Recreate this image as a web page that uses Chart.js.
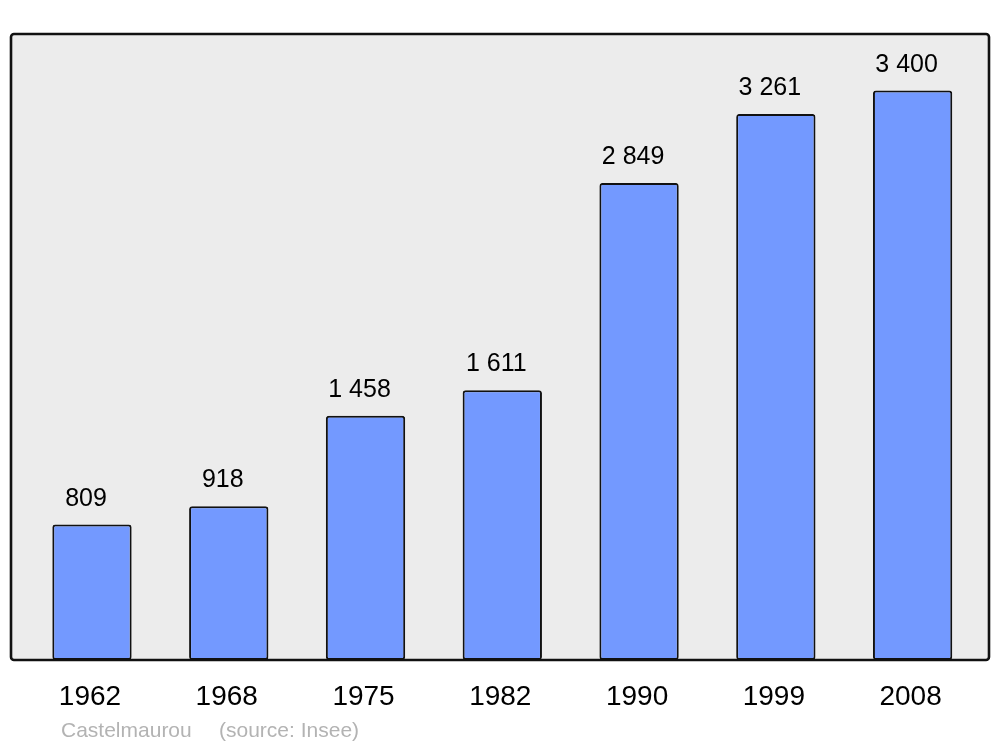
<!DOCTYPE html>
<html>
<head>
<meta charset="utf-8">
<script src="https://cdn.jsdelivr.net/npm/chart.js@4"></script>
<style>
html,body{margin:0;padding:0;background:#fff}
#wrap{width:1000px;height:747px;position:relative}
</style>
</head>
<body>
<div id="wrap"><canvas id="c" width="1000" height="747"></canvas></div>
<script>
'use strict';
// data
const years=['1962','1968','1975','1982','1990','1999','2008'];
const population=[809,918,1458,1611,2849,3261,3400];
const commune='Castelmaurou';
const source='(source: Insee)';

const fmt=n=>String(n).replace(/\B(?=(\d{3})+(?!\d))/g,' ');
const FONT='"Liberation Sans", Arial, sans-serif';

// frame + background behind bars
const framePlugin={
  id:'frame',
  beforeDatasetsDraw(chart){
    const c=chart.ctx;
    c.save();
    c.fillStyle='#ececec';
    c.beginPath();c.roundRect(11,34,978,626,3);c.fill();
    c.restore();
  },
  afterDatasetsDraw(chart){
    const c=chart.ctx,x=chart.scales.x,y=chart.scales.y;
    c.save();
    c.strokeStyle='#111';c.lineWidth=2.6;
    c.beginPath();c.roundRect(11,34,978,626,3);c.stroke();
    // value labels
    c.fillStyle='#000';c.font='25px '+FONT;c.textAlign='center';c.textBaseline='alphabetic';
    population.forEach((v,i)=>{
      c.fillText(fmt(v),x.getPixelForValue(i)-6,y.getPixelForValue(v)-19);
    });
    // category labels
    c.font='28px '+FONT;
    years.forEach((t,i)=>c.fillText(t,x.getPixelForValue(i)-2,705));
    // footer
    c.fillStyle='#b3b3b3';c.font='21px '+FONT;c.textAlign='left';
    c.fillText(commune,61,737);
    c.fillText(source,219,737);
    c.restore();
  }
};

new Chart(document.getElementById('c'),{
  type:'bar',
  data:{labels:years,datasets:[{
    data:population,
    backgroundColor:'#7399ff',
    borderColor:'#111',
    borderWidth:2,
    borderRadius:3,
    borderSkipped:false,
    barPercentage:0.58,
    categoryPercentage:1
  }]},
  options:{
    responsive:false,animation:false,
    layout:{padding:{left:23.6,right:19,top:34,bottom:87}},
    plugins:{legend:{display:false},tooltip:{enabled:false}},
    scales:{
      x:{display:false},
      y:{display:false,min:0,max:3738}
    }
  },
  plugins:[framePlugin]
});
</script>
</body>
</html>
